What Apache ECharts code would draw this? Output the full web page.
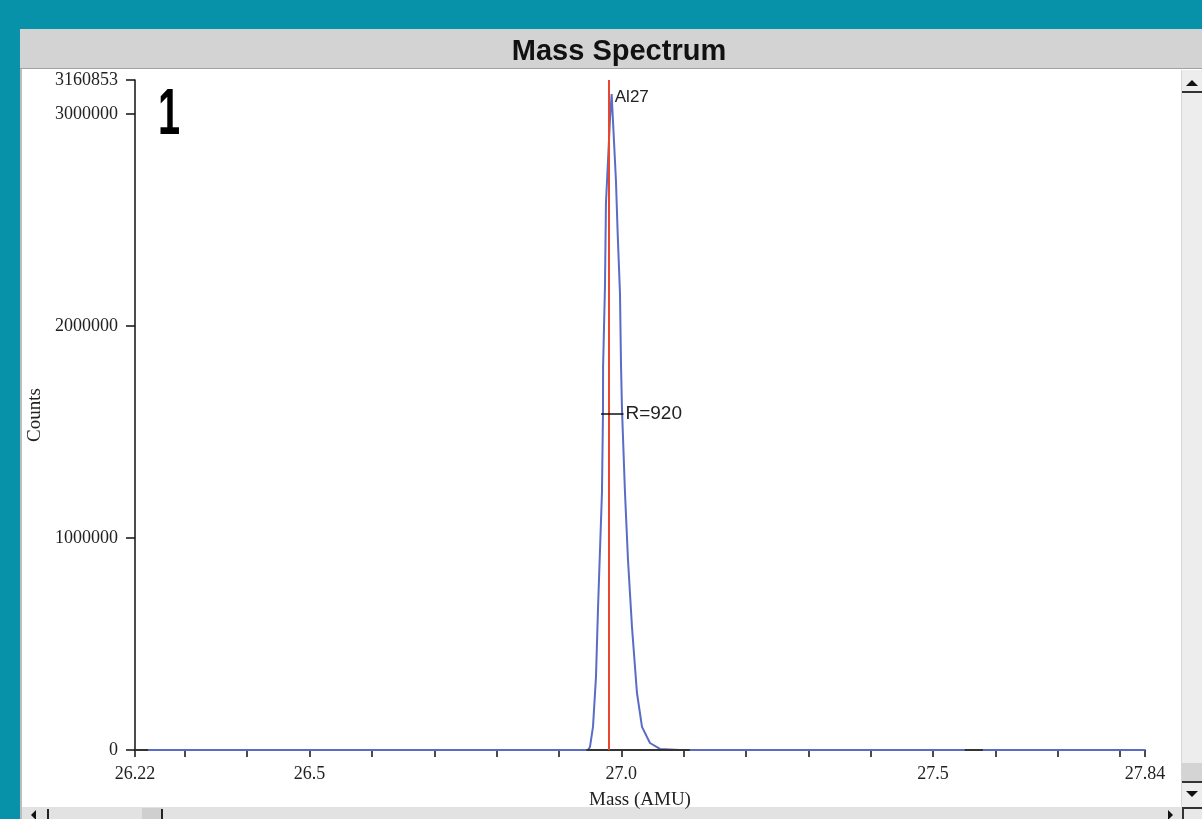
<!DOCTYPE html>
<html>
<head>
<meta charset="utf-8">
<script src="https://cdn.jsdelivr.net/npm/echarts@6/dist/echarts.min.js"></script>
<style>
  html, body { margin: 0; padding: 0; }
  body { width: 1202px; height: 819px; overflow: hidden; position: relative; background: #0892a9; }
  .abs { position: absolute; }
  #win { left: 20px; top: 29px; width: 1182px; height: 790px; background: #ffffff; box-sizing: border-box; border-left: 2px solid #bcbcbc; }
  #titlebar { left: 20px; top: 29px; width: 1182px; height: 40px; background: #d3d3d3; border-bottom: 1px solid #a2a2a2; box-sizing: border-box; }
  #vscroll { left: 1181px; top: 70px; width: 21px; height: 737px; background: #ededed; border-left: 1px solid #d6d6d6; box-sizing: border-box; }
  #vup { left: 1182px; top: 91px; width: 20px; height: 2px; background: #333; }
  #vthumb { left: 1182px; top: 763px; width: 20px; height: 18px; background: #d4d4d4; }
  #vdownline { left: 1182px; top: 781px; width: 20px; height: 2px; background: #333; }
  .triUp { width: 0; height: 0; border-left: 6px solid transparent; border-right: 6px solid transparent; border-bottom: 6px solid #111; }
  .triDown { width: 0; height: 0; border-left: 6px solid transparent; border-right: 6px solid transparent; border-top: 6px solid #111; }
  .triLeft { width: 0; height: 0; border-top: 5px solid transparent; border-bottom: 5px solid transparent; border-right: 5px solid #111; }
  .triRight { width: 0; height: 0; border-top: 5px solid transparent; border-bottom: 5px solid transparent; border-left: 5px solid #111; }
  #hscroll { left: 22px; top: 807px; width: 1160px; height: 12px; background: #e2e2e2; }
  #hline1 { left: 47px; top: 809px; width: 2px; height: 10px; background: #222; }
  #hthumb { left: 142px; top: 808px; width: 20px; height: 11px; background: #cfcfcf; }
  #hline2 { left: 161px; top: 809px; width: 2px; height: 10px; background: #222; }
  #corner { left: 1182px; top: 807px; width: 20px; height: 12px; background: #e8e8e8; border-left: 2px solid #333; border-top: 2px solid #333; box-sizing: border-box; }
  #chart { position: absolute; left: 0; top: 0; width: 1202px; height: 819px; }
</style>
</head>
<body>
<div id="win" class="abs"></div>
<div id="titlebar" class="abs"></div>
<div id="vscroll" class="abs"></div>
<div id="vup" class="abs"></div>
<div class="abs triUp" style="left:1186px;top:80px;"></div>
<div id="vthumb" class="abs"></div>
<div id="vdownline" class="abs"></div>
<div class="abs triDown" style="left:1186px;top:791px;"></div>
<div id="hscroll" class="abs"></div>
<div class="abs triLeft" style="left:31px;top:810px;"></div>
<div id="hline1" class="abs"></div>
<div id="hthumb" class="abs"></div>
<div id="hline2" class="abs"></div>
<div class="abs triRight" style="left:1168px;top:810px;"></div>
<div id="corner" class="abs"></div>
<div id="chart"></div>
<script>
// ---- data ----
const masses = [26.22, 26.94, 26.9465, 26.9497, 26.9546, 26.9594, 26.9626, 26.9690, 26.9706, 26.9708,
  26.9738, 26.9754, 26.9818, 26.9845, 26.9866, 26.9914, 26.9942, 26.9979, 26.9995, 27.0011,
  27.0059, 27.0107, 27.0171, 27.0251, 27.0332, 27.0460, 27.062, 27.094, 27.84];
const counts = [0, 0, 0, 14000, 109000, 345000, 663000, 1216000, 1585000, 1808000,
  2186000, 2580000, 2972000, 3095000, 2972000, 2688000, 2437000, 2153000, 1822000, 1609000,
  1216000, 899000, 582000, 270000, 109000, 33000, 5000, 0, 0];
const markerMasses = [26.22, 26.241, 26.6, 26.944, 27.11, 27.3, 27.551, 27.58];
const markerCounts = [0, 0, '-', 0, 0, '-', 0, 0];
const peakName = 'Al27';
const peakMass = 26.9815;
const peakLabelCounts = 3080000;
const fwhmMasses = [26.9675, 27.0035];
const fwhmCounts = [1585000, 1585000];
const resolutionText = 'R=920';
const xMin = 26.22, xMax = 27.84;
const yMax = 3160853;
const xTickValues = [26.22, 26.3, 26.4, 26.5, 26.6, 26.7, 26.8, 26.9, 27.0, 27.1, 27.2, 27.3, 27.4, 27.5, 27.6, 27.7, 27.8, 27.84];
const xLabelValues = [26.22, 26.5, 27.0, 27.5, 27.84];
const xLabelTexts = ['26.22', '26.5', '27.0', '27.5', '27.84'];
const yTickValues = [0, 1000000, 2000000, 3000000, 3160853];
const yLabelTexts = ['0', '1000000', '2000000', '3000000', '3160853'];
const titleText = 'Mass Spectrum';
const panelNumber = '1';

// ---- chart ----
const chart = echarts.init(document.getElementById('chart'), null, { renderer: 'canvas' });
const pairs = (xs, ys) => xs.map((x, i) => [x, ys[i]]);
const serif = '"Liberation Serif", "DejaVu Serif", serif';
const sans = '"Liberation Sans", Arial, sans-serif';

chart.setOption({
  animation: false,
  backgroundColor: 'transparent',
  title: {
    text: titleText,
    left: 614,
    textAlign: 'center',
    top: 32,
    textStyle: { fontFamily: sans, fontWeight: 'bold', fontSize: 29, color: '#111' }
  },
  grid: { left: 135, right: 57, top: 80, bottom: 69, containLabel: false },
  xAxis: {
    type: 'value',
    min: xMin, max: xMax,
    name: 'Mass (AMU)',
    nameLocation: 'middle',
    nameGap: 41,
    nameTextStyle: { fontFamily: serif, fontSize: 19, color: '#222' },
    axisLine: { show: true, lineStyle: { color: '#111', width: 1.5 } },
    axisTick: { show: true, customValues: xTickValues, length: 7, lineStyle: { color: '#111', width: 1.5 } },
    axisLabel: {
      customValues: xLabelValues,
      margin: 15,
      fontFamily: serif, fontSize: 18, color: '#222',
      formatter: v => { const i = xLabelValues.findIndex(x => Math.abs(x - v) < 1e-6); return i >= 0 ? xLabelTexts[i] : ''; }
    },
    splitLine: { show: false }
  },
  yAxis: {
    type: 'value',
    min: 0, max: yMax,
    name: 'Counts',
    nameLocation: 'middle',
    nameGap: 90,
    nameTextStyle: { fontFamily: serif, fontSize: 19, color: '#222' },
    axisLine: { show: true, lineStyle: { color: '#111', width: 1.5 } },
    axisTick: { show: true, customValues: yTickValues, length: 9, lineStyle: { color: '#111', width: 1.5 } },
    axisLabel: {
      customValues: yTickValues,
      margin: 17,
      fontFamily: serif, fontSize: 18, color: '#222',
      formatter: v => { const i = yTickValues.findIndex(y => Math.abs(y - v) < 1); return i >= 0 ? yLabelTexts[i] : ''; }
    },
    splitLine: { show: false }
  },
  graphic: [{
    type: 'text', x: 158, y: 84, scaleX: 0.62,
    style: { text: panelNumber, fontFamily: sans, fontWeight: 'bold', fontSize: 64, fill: '#000' }
  }],
  series: [
    {
      name: 'spectrum',
      type: 'line',
      data: pairs(masses, counts),
      showSymbol: false,
      symbol: 'none',
      lineStyle: { color: '#5a6cc6', width: 2 },
      z: 3,
      markLine: {
        silent: true,
        symbol: ['none', 'none'],
        label: { show: false },
        lineStyle: { color: '#e8462e', width: 2, type: 'solid' },
        data: [{ xAxis: peakMass }]
      },
      markPoint: {
        silent: true,
        symbol: 'circle',
        symbolSize: 0,
        data: [{
          coord: [peakMass, peakLabelCounts],
          label: { show: true, position: 'right', distance: 5, formatter: peakName, fontFamily: sans, fontSize: 17, color: '#222' }
        }]
      }
    },
    {
      name: 'markers',
      type: 'line',
      data: pairs(markerMasses, markerCounts),
      showSymbol: false,
      symbol: 'none',
      connectNulls: false,
      lineStyle: { color: '#333', width: 2 },
      z: 4
    },
    {
      name: 'fwhm',
      type: 'line',
      data: pairs(fwhmMasses, fwhmCounts),
      showSymbol: false,
      symbol: 'none',
      lineStyle: { color: '#111', width: 1.5 },
      z: 5,
      endLabel: { show: true, formatter: resolutionText, distance: 2, fontFamily: sans, fontSize: 19, color: '#222' }
    }
  ]
});
</script>
</body>
</html>
